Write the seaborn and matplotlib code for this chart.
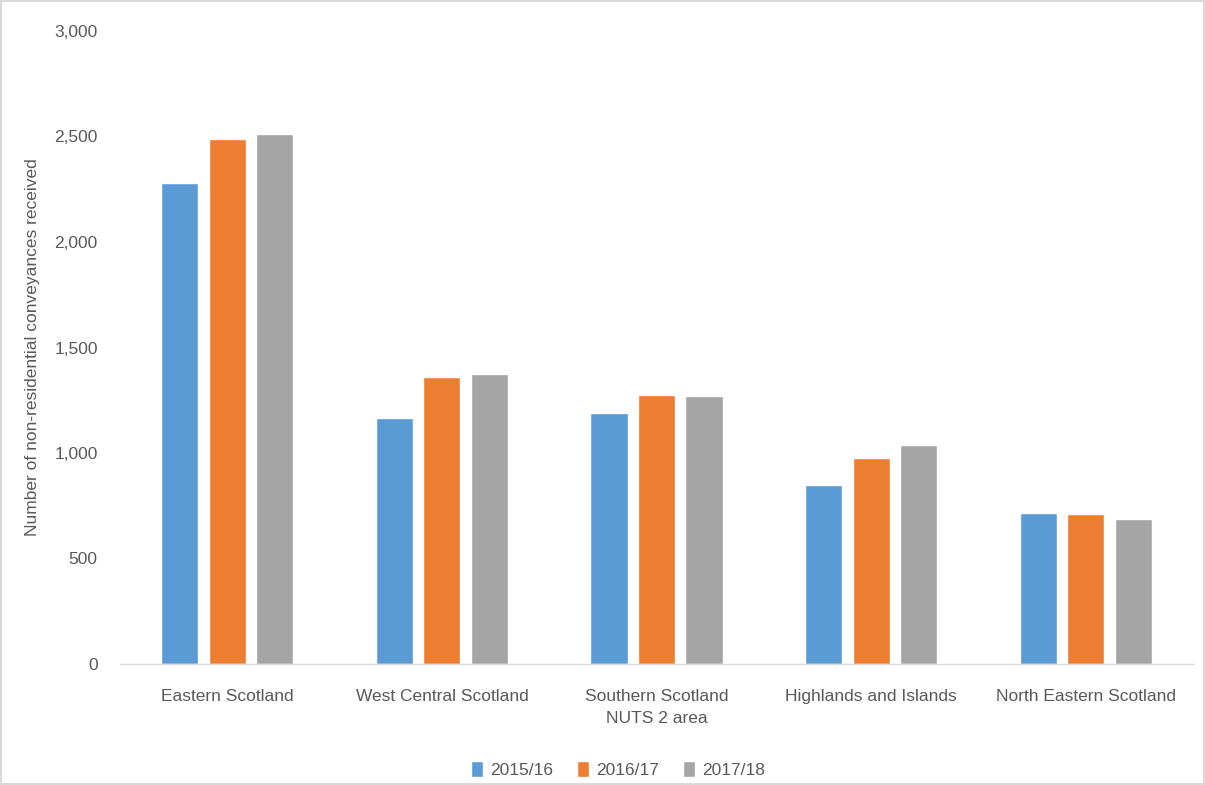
import pandas as pd
import matplotlib
matplotlib.use("Agg")
import matplotlib.pyplot as plt
import seaborn as sns

# --- Datos ---
areas = ["Eastern Scotland", "West Central Scotland", "Southern Scotland",
         "Highlands and Islands", "North Eastern Scotland"]
years = ["2015/16", "2016/17", "2017/18"]
v_2015 = [2278, 1164, 1188, 848, 714]
v_2016 = [2487, 1359, 1275, 978, 710]
v_2017 = [2510, 1374, 1270, 1036, 686]
colors = ["#5B9BD5", "#ED7D31", "#A5A5A5"]

df = pd.DataFrame({
    "area": areas * 3,
    "year": [y for y in years for _ in areas],
    "value": v_2015 + v_2016 + v_2017,
})

sns.set_theme(style="white")
plt.rcParams["font.family"] = ["Liberation Sans", "DejaVu Sans"]
text_col = "#595959"
fs = 12.5

fig = plt.figure(figsize=(12.05, 7.85), dpi=100)
fig.patch.set_edgecolor("#D9D9D9")
fig.patch.set_linewidth(1.5)
ax = fig.add_axes([120 / 1205, 1 - 664 / 785, 1073 / 1205, 633 / 785])

sns.barplot(data=df, x="area", y="value", hue="year", palette=colors,
            width=0.664, gap=0.22, ax=ax, legend=True, saturation=1)

ax.set_ylim(0, 3000)
ax.set_xlim(-0.5, 4.5)
ax.set_yticks(range(0, 3001, 500))
ax.yaxis.set_major_formatter(matplotlib.ticker.FuncFormatter(lambda v, p: f"{int(v):,}"))
ax.tick_params(axis="both", colors=text_col, labelsize=fs, length=0)
ax.tick_params(axis="x", pad=18)
ax.tick_params(axis="y", pad=16)

for s in ["top", "right", "left"]:
    ax.spines[s].set_visible(False)
ax.spines["bottom"].set_color("#D9D9D9")
ax.spines["bottom"].set_linewidth(1)

ax.set_xlabel("NUTS 2 area", color=text_col, fontsize=fs, labelpad=5)
ax.set_ylabel("Number of non-residential conveyances received", color=text_col,
              fontsize=fs)
ax.yaxis.set_label_coords(-80 / 1073, 0.5)

handles, labels = ax.get_legend_handles_labels()
ax.legend(handles, labels, loc="center", bbox_to_anchor=(0.464, -0.167), ncol=3,
          frameon=False, fontsize=fs, handlelength=0.7, handleheight=1.0,
          handletextpad=0.4, columnspacing=1.4, labelcolor=text_col)

fig.savefig("out.png", dpi=100)
